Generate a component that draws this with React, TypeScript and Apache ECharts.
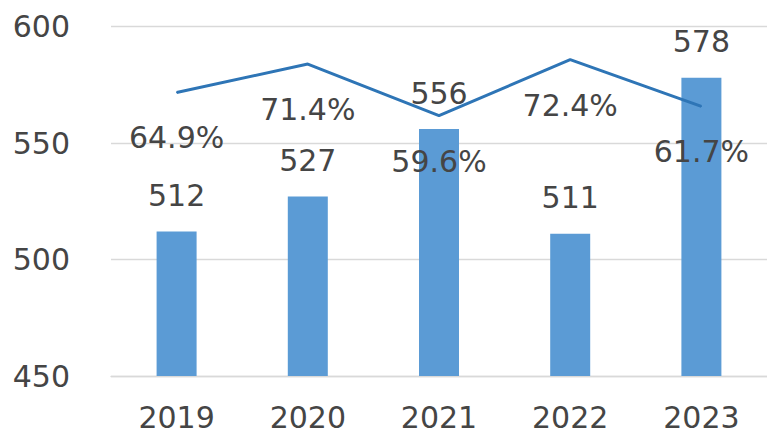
import React, { useEffect, useRef } from "react";
import * as echarts from "echarts";

const categories = ["2019", "2020", "2021", "2022", "2023"];
const barValues = [512, 527, 556, 511, 578];
const rateValues = [64.9, 71.4, 59.6, 72.4, 61.7];

const TEXT = "#454545";
const FONT = "DejaVu Sans";

export default function App() {
  const ref = useRef<HTMLDivElement>(null);
  useEffect(() => {
    const chart = echarts.init(ref.current!, null, { renderer: "svg" });
    chart.setOption({
      animation: false,
      textStyle: { fontFamily: FONT },
      grid: { left: 111, top: 26.5, width: 663, height: 349.5 },
      xAxis: {
        type: "category",
        data: categories,
        axisTick: { show: false },
        axisLine: { lineStyle: { color: "#D9D9D9", width: 1.3 } },
        axisLabel: { color: TEXT, fontSize: 30, fontFamily: FONT, margin: 26 },
      },
      yAxis: [
        {
          type: "value",
          min: 450,
          max: 600,
          interval: 50,
          axisLine: { show: false },
          axisTick: { show: false },
          axisLabel: { color: TEXT, fontSize: 30, fontFamily: FONT, margin: 41 },
          splitLine: { lineStyle: { color: "#D9D9D9", width: 1.3 } },
        },
        {
          type: "value",
          min: 0,
          max: 80,
          show: false,
          splitLine: { show: false },
        },
      ],
      series: [
        {
          type: "bar",
          data: barValues,
          barWidth: 40,
          itemStyle: { color: "#5B9BD5" },
          label: {
            show: true,
            position: "top",
            distance: 21,
            color: TEXT,
            fontSize: 30,
            fontFamily: FONT,
          },
        },
        {
          type: "line",
          yAxisIndex: 1,
          data: rateValues,
          symbol: "circle",
          symbolSize: 1,
          itemStyle: { color: "#2E75B6" },
          lineStyle: { color: "#2E75B6", width: 3 },
          label: {
            show: true,
            position: "bottom",
            distance: 30,
            color: TEXT,
            fontSize: 30,
            fontFamily: FONT,
            formatter: (p: any) => Number(p.value).toFixed(1) + "%",
          },
        },
      ],
    });
    return () => chart.dispose();
  }, []);
  return (
    <div
      ref={ref}
      style={{ position: "absolute", left: 0, top: 0, width: 767, height: 435, background: "#fff" }}
    />
  );
}
